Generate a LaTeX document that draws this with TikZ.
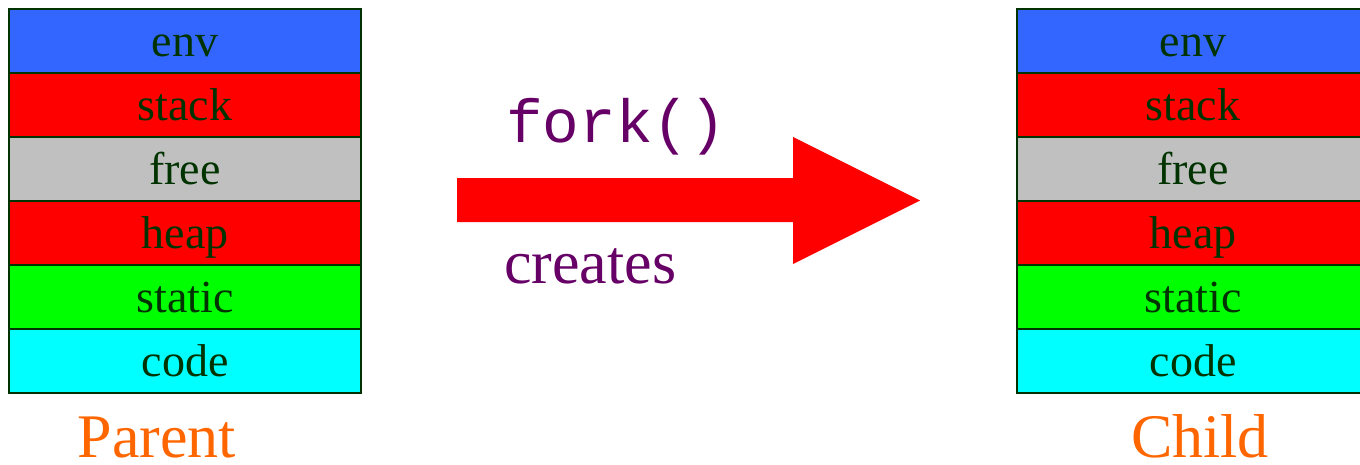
\documentclass[tikz,border=0pt]{standalone}
\usepackage{fontspec}
\setmainfont{Liberation Serif}
\setmonofont{Liberation Mono}
\definecolor{envblue}{HTML}{3366FF}
\definecolor{stackred}{HTML}{FF0000}
\definecolor{freegray}{HTML}{C0C0C0}
\definecolor{staticgreen}{HTML}{00FF00}
\definecolor{codecyan}{HTML}{00FFFF}
\definecolor{darkline}{HTML}{003300}
\definecolor{forkpurple}{HTML}{660066}
\definecolor{labelorange}{HTML}{FF6600}
\tikzset{
  seg/.style={draw=darkline, line width=2.4pt, minimum width=352pt, inner sep=0pt,
    text height=47pt, text depth=17pt, text=darkline,
    font=\fontsize{46}{50}\selectfont},
  caption/.style={text=labelorange, inner sep=0pt, anchor=base, font=\fontsize{62}{66}\selectfont},
  purpletext/.style={text=forkpurple, inner sep=0pt, anchor=base west}
}
\begin{document}
\begin{tikzpicture}[x=1pt,y=-1pt]
\useasboundingbox (0,0) rectangle (1360,464);
\clip (0,0) rectangle (1360,464);
% Parent
\node[seg, fill=envblue] (penv) at (185,41) {env};
\node[seg, fill=stackred] (pstack) at (185,105) {stack};
\node[seg, fill=freegray] (pfree) at (185,169) {free};
\node[seg, fill=stackred] (pheap) at (185,233) {heap};
\node[seg, fill=staticgreen] (pstatic) at (185,297) {static};
\node[seg, fill=codecyan] (pcode) at (185,361) {code};
% Child
\node[seg, fill=envblue] (cenv) at (1193,41) {env};
\node[seg, fill=stackred] (cstack) at (1193,105) {stack};
\node[seg, fill=freegray] (cfree) at (1193,169) {free};
\node[seg, fill=stackred] (cheap) at (1193,233) {heap};
\node[seg, fill=staticgreen] (cstatic) at (1193,297) {static};
\node[seg, fill=codecyan] (ccode) at (1193,361) {code};
% captions
\node[caption] (parent) at (157,457) {Parent};
\node[caption] (child) at (1200,457) {Child};
% arrow
\fill[stackred] (457,178) -- (793,178) -- (793,137) -- (920,200.5) -- (793,264) -- (793,222) -- (457,222) -- cycle;
\node[purpletext, font=\fontsize{61}{64}\selectfont\ttfamily] (fork) at (506,142) {fork()};
\node[purpletext, font=\fontsize{62}{66}\selectfont] (creates) at (504,283) {creates};
\end{tikzpicture}
\end{document}
